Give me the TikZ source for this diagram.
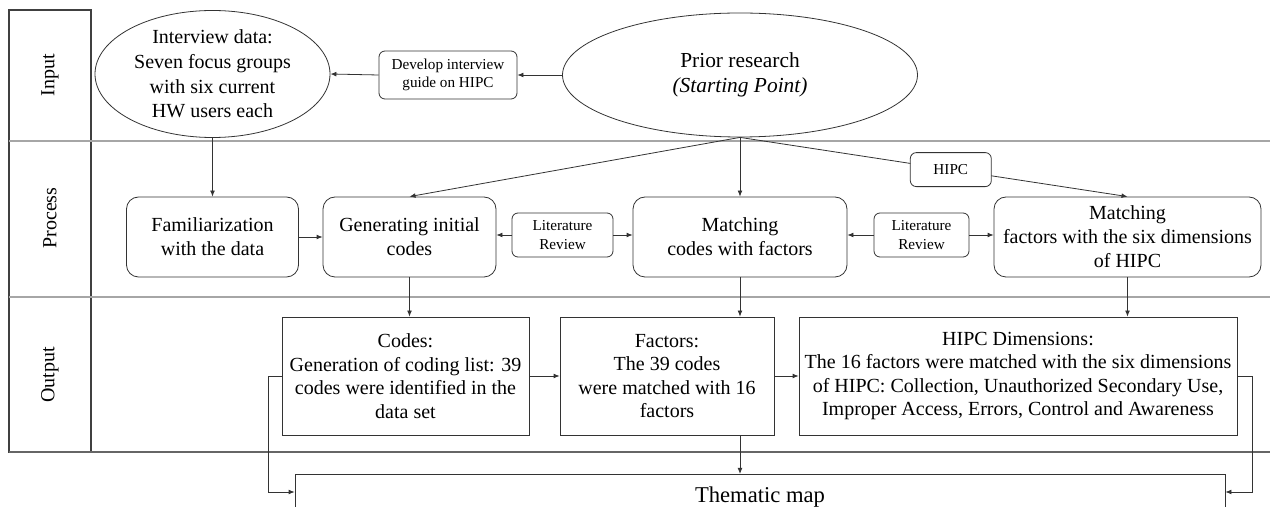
\documentclass[tikz,border=0pt]{standalone}
\usepackage{fontspec}
\setmainfont{Liberation Serif}
\usetikzlibrary{shapes.geometric,arrows.meta}

\begin{document}
\begin{tikzpicture}[x=0.5pt,y=-0.5pt,
    lane/.style={draw=gray!70,line width=0.7pt},
    oval/.style={draw=black!80,ellipse,inner sep=0pt,align=center,line width=0.4pt},
    proc/.style={draw=black!80,rounded corners=6pt,minimum height=40pt,align=center,
      line width=0.4pt,font=\fontsize{10pt}{12pt}\selectfont},
    tag/.style={draw=black!80,rounded corners=3pt,fill=white,align=center,inner sep=1pt,
      line width=0.4pt,font=\fontsize{7.6pt}{9.3pt}\selectfont},
    outbox/.style={draw=black!80,minimum height=59pt,align=center,inner xsep=2pt,
      line width=0.4pt,font=\fontsize{10pt}{11.8pt}\selectfont},
    arr/.style={draw=black!80,line width=0.4pt,-{Latex[length=3pt,width=2.4pt]}}]
  \path[use as bounding box,clip] (0,0) rectangle (1270,507);

  % swim lanes
  \draw[black!75,line width=0.6pt] (9,10) rectangle (91,452);
  \draw[lane] (9,141) -- (1270,141);
  \draw[lane] (9,297) -- (1270,297);
  \draw[black!60,line width=0.6pt] (9,452) -- (1270,452);
  \node[rotate=90,font=\fontsize{10pt}{12pt}\selectfont] (laneIn) at (50,75) {Input};
  \node[rotate=90,font=\fontsize{10pt}{12pt}\selectfont] (laneProc) at (50,218) {Process};
  \node[rotate=90,font=\fontsize{10pt}{12pt}\selectfont] (laneOut) at (50,375) {Output};

  % input
  \node[oval,minimum width=117.5pt,minimum height=63.5pt,font=\fontsize{10pt}{12.3pt}\selectfont]
    (interview) at (212.5,74) {Interview data:\\Seven focus groups\\with six current\\HW users each};
  \node[tag,minimum width=69pt,minimum height=24pt] (guide) at (448,75) {Develop interview\\guide on HIPC};
  \node[oval,minimum width=177.5pt,minimum height=62pt,font=\fontsize{10.7pt}{12.8pt}\selectfont]
    (prior) at (740,75) {Prior research\\\textit{(Starting Point)}};

  % process
  \node[proc,minimum width=86pt] (famil) at (212.5,237) {Familiarization\\with the data};
  \node[proc,minimum width=86.5pt] (gencodes) at (409.5,237) {Generating initial\\codes};
  \node[tag,minimum width=50.5pt,minimum height=22pt] (litA) at (562.5,235) {Literature\\Review};
  \node[proc,minimum width=107pt] (matchcodes) at (740,237) {Matching\\codes with factors};
  \node[tag,minimum width=47.5pt,minimum height=22pt] (litB) at (921.5,235) {Literature\\Review};
  \node[proc,minimum width=133.5pt] (matchdims) at (1127.5,237) {Matching\\factors with the six dimensions\\of HIPC};

  % output
  \node[outbox,minimum width=123.5pt] (codes) at (405.5,376)
    {Codes:\\Generation of coding list: 39\\codes were identified in the\\data set};
  \node[outbox,minimum width=107pt] (factors) at (667,376)
    {Factors:\\The 39 codes\\were matched with 16\\factors};
  \node[outbox,minimum width=219pt] (dims) at (1018,376)
    {HIPC Dimensions:\\The 16 factors were matched with the six dimensions\\of HIPC: Collection, Unauthorized Secondary Use,\\Improper Access, Errors, Control and Awareness};
  \node[draw=black!80,line width=0.4pt,anchor=north,minimum width=465pt,inner ysep=6pt,
    text height=8pt,text depth=30pt,font=\fontsize{11.3pt}{13pt}\selectfont]
    (theme) at (760,474) {Thematic map};

  % connectors
  \draw[arr] (prior.west) -- (guide.east);
  \draw[arr] (guide.west) -- (interview.east);
  \draw[arr] (interview.south) -- (famil.north);
  \draw[arr] (prior.south) -- (gencodes.north);
  \draw[arr] (prior.south) -- (matchcodes.north);
  \draw[arr] (prior.south) -- node[tag,pos=0.544,minimum width=40.5pt,minimum height=17pt] (hipc) {HIPC} (matchdims.north);
  \draw[arr] (famil) -- (gencodes);
  \draw[arr] (litA.west) -- (litA.west -| gencodes.east);
  \draw[arr] (litA.east) -- (litA.east -| matchcodes.west);
  \draw[arr] (litB.west) -- (litB.west -| matchcodes.east);
  \draw[arr] (litB.east) -- (litB.east -| matchdims.west);
  \draw[arr] (gencodes.south) -- (gencodes.south |- codes.north);
  \draw[arr] (matchcodes.south) -- (matchcodes.south |- factors.north);
  \draw[arr] (matchdims.south) -- (matchdims.south |- dims.north);
  \draw[arr] (codes) -- (factors);
  \draw[arr] (factors) -- (dims);
  \draw[arr] (factors.south -| matchcodes.south) -- (matchcodes.south |- theme.north);
  \draw[arr] (codes.west) -- ++(-13,0) |- ([yshift=-9pt]theme.north west);
  \draw[arr] (dims.east) -- ++(15,0) |- ([yshift=-9pt]theme.north east);
\end{tikzpicture}
\end{document}
